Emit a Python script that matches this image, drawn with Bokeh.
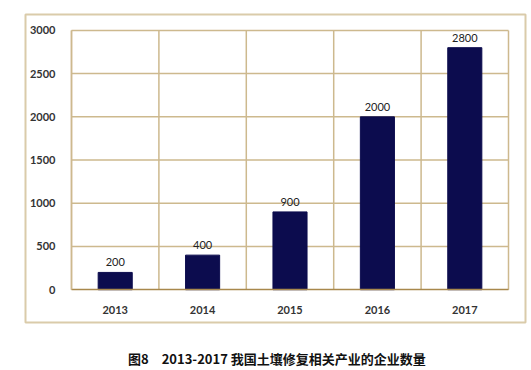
from bokeh.plotting import figure
from bokeh.models import FixedTicker, Range1d, LinearAxis, ColumnDataSource
from bokeh.core.properties import value
from bokeh.embed import file_html
from bokeh.resources import INLINE

years = ["2013", "2014", "2015", "2016", "2017"]
counts = [200, 400, 900, 2000, 2800]
y_ticks = [0, 500, 1000, 1500, 2000, 2500, 3000]
caption = "图8　2013-2017 我国土壤修复相关产业的企业数量"

n = len(years)
xs = [i + 0.5 for i in range(n)]
src = ColumnDataSource(dict(x=xs, top=counts, lab=[str(c) for c in counts]))

tan = "#cdb98e"
# frame = outer chart box; inner plot area spans x 0..n, y 0..3000
px_per_x = 437 / n
units_per_px = 3000 / 261
p = figure(width=531, height=370, output_backend="svg", toolbar_location=None,
           x_range=Range1d(0 - 46 / px_per_x, n + 17 / px_per_x),
           y_range=Range1d(0 - 33 * units_per_px, 3000 + 16 * units_per_px),
           x_axis_location=None, y_axis_location=None,
           min_border_left=25, min_border_right=6, min_border_top=14, min_border_bottom=46)
p.background_fill_color = "white"
p.border_fill_color = "white"
p.outline_line_color = "#dacbaa"
p.outline_line_width = 2
p.grid.visible = False

# grid of the inner plot area
gx = list(range(n + 1))
gy = y_ticks[1:]
p.segment(x0=gx, y0=[0] * len(gx), x1=gx, y1=[3000] * len(gx), line_color=tan, line_width=1.5)
p.segment(x0=[0] * len(gy), y0=gy, x1=[n] * len(gy), y1=gy, line_color=tan, line_width=1.5)

p.vbar(x="x", top="top", width=0.39, bottom=0, source=src, fill_color="#0c0c4e", line_color="#0c0c4e")
p.text(x="x", y="top", text="lab", source=src, text_align="center", text_baseline="bottom",
       y_offset=-6, text_font=value("Lato"), text_font_size="11px", text_color="#222222")

def style(ax):
    ax.major_tick_line_color = None
    ax.minor_tick_line_color = None
    ax.major_label_text_font = "Lato"
    ax.major_label_text_font_size = "11px"
    ax.major_label_text_font_style = "bold"
    ax.major_label_text_color = "#333333"
    ax.major_label_standoff = 10

yax = LinearAxis(ticker=FixedTicker(ticks=y_ticks), fixed_location=0, bounds=(0, 3000))
style(yax)
yax.axis_line_color = tan
yax.axis_line_width = 1.5
p.add_layout(yax, "left")

xax = LinearAxis(ticker=FixedTicker(ticks=xs), fixed_location=0, bounds=(0, n),
                 major_label_overrides={x: y for x, y in zip(xs, years)})
style(xax)
xax.axis_line_color = "#a8884c"
xax.axis_line_width = 1.5
p.add_layout(xax, "below")

cap_x = 2.35
cax = LinearAxis(ticker=FixedTicker(ticks=[cap_x]), major_label_overrides={cap_x: caption})
cax.axis_line_color = None
cax.major_tick_line_color = None
cax.minor_tick_line_color = None
cax.major_label_text_font = "Noto Sans CJK SC"
cax.major_label_text_font_size = "13px"
cax.major_label_text_font_style = "bold"
cax.major_label_text_color = "#111111"
cax.major_label_standoff = 20
p.add_layout(cax, "below")

open("out.html", "w").write(file_html(p, INLINE))
